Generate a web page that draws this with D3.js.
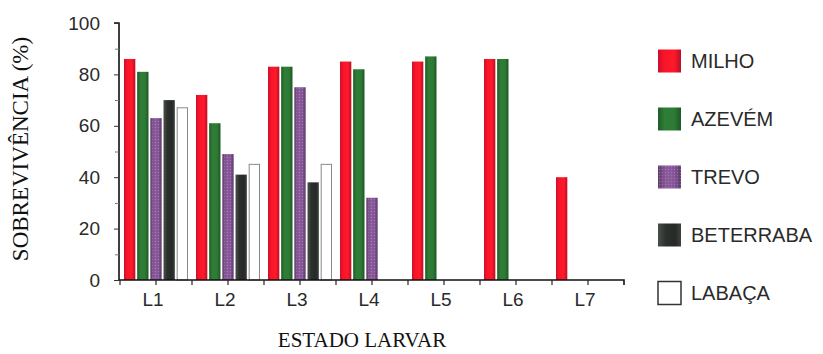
<!DOCTYPE html>
<html><head><meta charset="utf-8">
<script src="https://cdn.jsdelivr.net/npm/d3@7"></script>
<style>
html,body{margin:0;padding:0;background:#fff;}
svg{display:block;}
</style></head>
<body>
<svg id="chart" width="823" height="354"></svg>
<script>
// ---- data ----
const categories = ["L1","L2","L3","L4","L5","L6","L7"];
const seriesNames = ["MILHO","AZEVÉM","TREVO","BETERRABA","LABAÇA"];
const milho     = [86, 72, 83, 85, 85, 86, 40];
const azevem    = [81, 61, 83, 82, 87, 86, 0];
const trevo     = [63, 49, 75, 32, 0, 0, 0];
const beterraba = [70, 41, 38, 0, 0, 0, 0];
const labaca    = [67, 45, 45, 0, 0, 0, 0];
const yTicks = [0, 20, 40, 60, 80, 100];
const yMinorTicks = [10, 30, 50, 70, 90];
const xTitle = "ESTADO LARVAR";
const yTitle = "SOBREVIVÊNCIA (%)";

const seriesValues = [milho, azevem, trevo, beterraba, labaca];
const colors = ["red","green","purple","dark","white"];

const svg = d3.select("#chart");
const defs = svg.append("defs");
function grad(id, stops){
  const g = defs.append("linearGradient").attr("id", id).attr("x1","0%").attr("x2","100%").attr("y1","0%").attr("y2","0%");
  stops.forEach(([o,c]) => g.append("stop").attr("offset", o).attr("stop-color", c));
}
grad("g-red",    [["0%","#c8102e"],["25%","#f8132a"],["70%","#ff1a28"],["100%","#b80e2a"]]);
grad("g-green",  [["0%","#1f5e27"],["30%","#2f7d37"],["70%","#2e7a35"],["100%","#1d5824"]]);
grad("g-purple", [["0%","#5e3a6a"],["35%","#8a5a98"],["70%","#85559a"],["100%","#5a3866"]]);
grad("g-dark",   [["0%","#4a4e4a"],["35%","#2c302c"],["75%","#262a26"],["100%","#3e423e"]]);
const pat = defs.append("pattern").attr("id","dots").attr("width",3).attr("height",3).attr("patternUnits","userSpaceOnUse");
pat.append("circle").attr("cx",1.5).attr("cy",1.5).attr("r",0.7).attr("fill","#b890c8").attr("opacity",0.55);

const fills = {red:"url(#g-red)", green:"url(#g-green)", purple:"url(#g-purple)", dark:"url(#g-dark)", white:"#ffffff"};

// ---- scales ----
const x0 = d3.scaleBand().domain(categories).range([120, 624]).paddingInner(0.111).paddingOuter(0.0555);
const x1 = d3.scaleBand().domain(d3.range(seriesNames.length)).range([0, x0.bandwidth()]).paddingInner(0.14).paddingOuter(0);
const y = d3.scaleLinear().domain([0, 100]).range([280, 23]);

// ---- bars ----
const groups = svg.append("g").selectAll("g").data(categories).join("g")
  .attr("transform", d => `translate(${x0(d)},0)`);
groups.each(function(cat, ci){
  const g = d3.select(this);
  seriesValues.forEach((vals, si) => {
    const v = vals[ci];
    if (!v) return;
    const c = colors[si];
    const r = g.append("rect")
      .attr("x", x1(si)).attr("width", x1.bandwidth())
      .attr("y", y(v)).attr("height", y(0) - y(v))
      .attr("fill", fills[c]);
    if (c === "white") r.attr("x", x1(si)+0.5).attr("width", x1.bandwidth()-1).attr("stroke", "#8a8a8a").attr("stroke-width", 1);
    if (c === "purple") g.append("rect").attr("x", x1(si)).attr("width", x1.bandwidth())
      .attr("y", y(v)).attr("height", y(0) - y(v)).attr("fill", "url(#dots)");
  });
});

// ---- axes ----
const textCol = "#2a2a2a";
const yAxis = d3.axisLeft(y).tickValues(yTicks).tickSize(5).tickPadding(14).tickFormat(d3.format("d"));
const gy = svg.append("g").attr("transform", "translate(119,0)").call(yAxis);
gy.select(".domain").attr("d", `M-5,${y(100)}H0V${y(0)}`).attr("stroke", "#111").attr("stroke-width", 1.6);
gy.selectAll(".tick line").attr("stroke", "#333");
gy.selectAll(".tick text").attr("font-family", "'Liberation Sans', Arial, sans-serif").attr("font-size", 19).attr("fill", textCol);
const gyMinor = svg.append("g").attr("transform", "translate(119,0)")
  .call(d3.axisLeft(y).tickValues(yMinorTicks).tickSize(4).tickFormat(""));
gyMinor.select(".domain").remove();
gyMinor.selectAll(".tick line").attr("stroke", "#777");

// x axis: ticks at group boundaries and centers
const xAxis = d3.axisBottom(x0).tickSize(5).tickPadding(8);
const gx = svg.append("g").attr("transform", `translate(0,${y(0)})`).call(xAxis);
gx.select(".domain").attr("d", `M119,0H624V5`).attr("stroke", "#111").attr("stroke-width", 1.6);
gx.selectAll(".tick line").attr("stroke", "#222").attr("stroke-width", 1.2);
gx.selectAll(".tick text").attr("font-family", "'Liberation Sans', Arial, sans-serif").attr("font-size", 19).attr("fill", textCol)
  .attr("dx", -3);
const boundaries = categories.map(c => x0(c) - (x0.step() - x0.bandwidth())/2);
svg.append("g").selectAll("line").data(boundaries).join("line")
  .attr("x1", d => d).attr("x2", d => d).attr("y1", y(0)).attr("y2", y(0) + 5)
  .attr("stroke", "#222").attr("stroke-width", 1.2);

// ---- titles ----
svg.append("text").attr("x", 362).attr("y", 347).attr("text-anchor", "middle")
  .attr("font-family", "'Liberation Serif', 'Times New Roman', serif").attr("font-size", 21).attr("fill", "#111")
  .text(xTitle);
svg.append("text").attr("transform", "translate(28,149) rotate(-90)").attr("text-anchor", "middle")
  .attr("font-family", "'Liberation Serif', 'Times New Roman', serif").attr("font-size", 23).attr("fill", "#111")
  .text(yTitle);

// ---- legend ----
const legend = svg.append("g").selectAll("g").data(seriesNames).join("g")
  .attr("transform", (d, i) => `translate(658,${61 + i * 58})`);
legend.append("rect").attr("x", 0).attr("y", -11.5).attr("width", 23).attr("height", 23)
  .attr("fill", (d, i) => fills[colors[i]])
  .attr("stroke", (d, i) => colors[i] === "white" ? "#333" : "none").attr("stroke-width", 1.5);
legend.filter((d, i) => colors[i] === "purple").append("rect").attr("x", 0).attr("y", -11.5).attr("width", 23).attr("height", 23).attr("fill", "url(#dots)");
legend.append("text").attr("x", 33).attr("y", 0).attr("dy", "0.36em")
  .attr("font-family", "'Liberation Sans', Arial, sans-serif").attr("font-size", 20).attr("fill", "#2a2a2a")
  .text(d => d);
</script>
</body></html>
